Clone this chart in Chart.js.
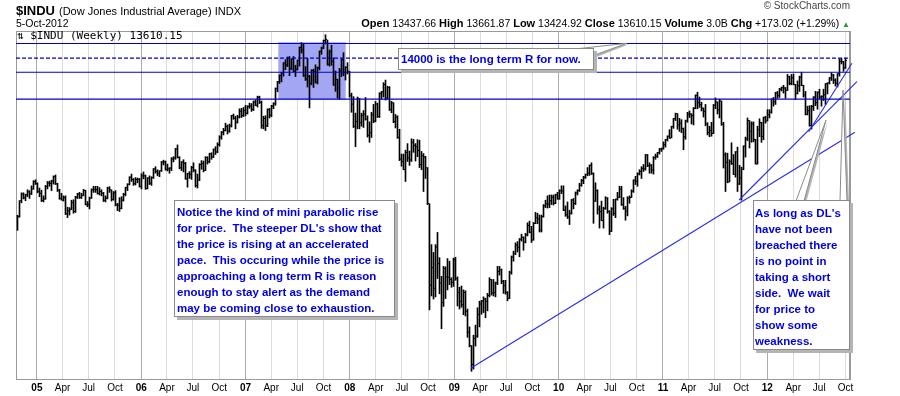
<!DOCTYPE html>
<html>
<head>
<meta charset="utf-8">
<script src="https://cdn.jsdelivr.net/npm/chart.js@4.4.1/dist/chart.umd.min.js"></script>
<style>
  html, body { margin: 0; padding: 0; background: #fff; }
  #wrap { position: relative; width: 900px; height: 396px; overflow: hidden; font-family: 'Liberation Sans', Arial, sans-serif; }
  #chart { position: absolute; left: 0; top: 0; }
  .t { position: absolute; white-space: pre; line-height: 1; color: #000; }
  .note { position: absolute; box-sizing: border-box; background: #fff; border: 1px solid #8a8a8a;
          box-shadow: 3px 3px 0 #b4b4b4; color: #0000e6; font: bold 11.5px 'Liberation Sans', Arial, sans-serif;
          line-height: 16px; white-space: pre; }
</style>
</head>
<body>
<div id="wrap">
  <canvas id="chart" width="900" height="396"></canvas>
  <div class="t" style="left:16px;top:3.5px;font-size:13px;font-weight:bold;">$INDU</div>
  <div class="t" style="left:59px;top:5.5px;font-size:11px;">(Dow Jones Industrial Average) INDX</div>
  <div class="t" style="left:16px;top:17.5px;font-size:10.5px;">5-Oct-2012</div>
  <div class="t" style="right:50px;top:17.5px;font-size:10.5px;"><b style="font-size:11px">Open</b> 13437.66 <b style="font-size:11px">High</b> 13661.87 <b style="font-size:11px">Low</b> 13424.92 <b style="font-size:11px">Close</b> 13610.15 <b style="font-size:11px">Volume</b> 3.0B <b style="font-size:11px">Chg</b> +173.02 (+1.29%) <span style="color:#2a9a2a;font-size:8px">▲</span></div>
  <div class="t" style="right:50px;top:1px;font-size:10px;color:#444;">© StockCharts.com</div>
  <div class="t" style="left:17px;top:30px;font-size:11px;font-family:'DejaVu Sans Mono',monospace;">⇅ $INDU (Weekly) 13610.15</div>

  <div class="note" style="left:398px;top:48px;width:196px;height:22px;padding:2px 0 0 2px;">14000 is the long term R for now.</div>
  <div class="note" style="left:174px;top:200px;width:221px;height:117px;padding:3px 0 0 2px;">Notice the kind of mini parabolic rise
for price.  The steeper DL's show that
the price is rising at an accelerated
pace.  This occuring while the price is
approaching a long term R is reason
enough to stay alert as the demand
may be coming close to exhaustion.</div>
  <div class="note" style="left:753px;top:200px;width:97px;height:150px;padding:4px 0 0 1px;">As long as DL's
have not been
breached there
is no point in
taking a short
side.  We wait
for price to
show some
weakness.</div>
</div>
<script>
// weekly bars, first bar = week of 29-Oct-2004 (week 0 = first week of Jan 2005)
const firstWeek = -10;

const weekHigh = [
  10054,10391,10570,10570,10540,10640,10620,10730,10850,10870,
  // 2005
  10800,10680,10630,10500,10740,10830,10840,10860,10960,10980,10790,10650,10560,10500,10500,10240,10230,10400,10410,10490,10560,10580,10560,10650,10630,10370,
  10470,10660,10720,10720,10720,10690,10640,10580,10500,10700,10710,10640,10600,10620,10330,10460,10480,10560,10700,10780,10940,11000,10900,10920,10910,10900,
  // 2006
  11010,11050,10980,10920,10960,10940,11130,11170,11100,11080,11290,11320,11300,11230,11150,11380,11400,11590,11670,11400,11290,11330,11270,11020,11060,11180,
  11260,11100,11000,11240,11310,11300,11400,11400,11480,11490,11580,11630,11720,11880,11980,12050,12170,12130,12150,12350,12380,12330,12350,12500,12510,12530,
  // 2007
  12580,12570,12630,12620,12680,12700,12790,12790,12680,12330,12340,12500,12510,12580,12640,12980,13130,13280,13340,13560,13630,13690,13700,13650,13700,13500,
  13620,13920,14020,14000,13470,13660,13270,13400,13410,13510,13460,13830,13920,14080,14200,14080,13850,13960,13670,13370,13180,13430,13650,13790,13470,13560,
  // 2008
  13360,12860,12780,12400,12770,12740,12400,12460,12760,12340,12200,12420,12600,12670,12630,12870,12900,13100,13160,13020,13010,12670,12640,12370,12340,12030,
  11460,11460,11550,11700,11530,11810,11800,11700,11790,11780,11520,11470,11410,11150,10320,9380,9200,9380,9660,9080,8650,8880,8870,9060,9000,8620,
  // 2009
  9070,9090,8640,8400,8430,8340,8320,7900,7490,7060,7300,7530,7930,8080,8100,8180,8150,8260,8620,8580,8580,8520,8880,8880,8820,8560,8560,
  8300,8770,9120,9230,9420,9450,9520,9620,9560,9640,9880,9920,9800,9890,10120,10100,10060,10060,10300,10400,10500,10520,10520,10520,10540,10580,
  // 2010
  10640,10730,10730,10270,10360,10170,10420,10440,10590,10640,10790,10880,10950,11000,11150,11210,11260,11030,10800,10640,10270,10380,10240,10480,10460,10160,
  10230,10420,10430,10580,10720,10720,10460,10260,10480,10500,10640,10870,10950,11030,11100,11170,11220,11450,11450,11260,11220,11400,11460,11500,11590,11600,
  // 2011
  11740,11800,11880,12020,12100,12280,12400,12390,12280,12250,12060,12240,12420,12450,12390,12530,12820,12880,12770,12650,12520,12600,12180,12100,12190,12600,
  12750,12660,12720,12680,12190,11490,11480,11330,11720,11450,11520,11620,11200,11160,11650,11850,12290,12230,12200,12200,11800,12100,12270,12190,12310,12330,
  // 2012
  12480,12480,12730,12760,12880,12900,12970,13000,13040,12990,13290,13250,13290,13300,13060,13140,13250,13340,13040,12900,
  12560,12570,12580,12780,12900,12890,12950,12800,12950,13080,13100,13220,13330,13290,13190,13310,13650,13660,13590,13662
];

const weekLow = [
  9708,10009,10340,10430,10390,10480,10440,10530,10650,10760,
  // 2005
  10570,10480,10370,10360,10420,10660,10720,10620,10770,10760,10600,10420,10400,10380,10070,10000,10060,10180,10100,10120,10440,10440,10440,10500,10290,10250,
  10200,10440,10580,10580,10540,10520,10500,10370,10360,10430,10580,10380,10400,10270,10160,10140,10200,10380,10500,10620,10750,10830,10740,10750,10800,10700,
  // 2006
  10660,10890,10650,10660,10760,10740,10900,11020,10960,10940,11060,11210,11090,11070,11020,11080,11280,11340,11370,11120,11080,11050,10880,10700,10900,10880,
  11050,10700,10680,10850,11110,11050,11080,11230,11260,11340,11380,11450,11490,11640,11800,11900,11990,11920,11960,12080,12260,12040,12170,12290,12300,12320,
  // 2007
  12340,12380,12510,12440,12460,12570,12540,12620,12050,12040,12000,12090,12290,12320,12500,12580,12890,13080,13120,13250,13400,13470,13260,13400,13350,13240,
  13390,13480,13780,13240,13150,13000,12520,13050,12990,13090,13070,13390,13750,13880,13990,13500,13480,13500,13040,12900,12750,12720,13240,13260,13160,13300,
  // 2008
  12770,12420,12070,11630,12040,12040,12100,12070,12240,11850,11730,11840,12180,12200,12300,12300,12720,12770,12700,12720,12460,12410,12180,12060,11820,11310,
  11180,11100,10830,11290,11200,11290,11500,11300,11400,11150,11100,10600,10900,10300,7880,8200,8130,8180,8600,8250,7450,7960,8140,8340,8460,8400,
  // 2009
  8420,8560,7970,7900,7940,7770,7740,7250,7030,6470,6520,7050,7250,7490,7780,7820,7700,7860,8180,8220,8200,8180,8460,8680,8480,8260,8240,
  8090,8140,8700,9000,9150,9210,9100,9460,9250,9420,9580,9650,9430,9480,9860,9860,9670,9670,10010,10230,10220,10230,10300,10290,10320,10420,
  // 2010
  10420,10550,10160,10030,9980,9840,10080,10200,10300,10520,10600,10720,10780,10900,10960,10970,10990,9870,10370,10080,9760,9930,9760,10190,10100,9610,
  9680,10050,10000,10400,10460,10280,10190,9940,10040,10330,10460,10580,10760,10720,10980,10900,11060,11090,11170,11020,11020,11000,11340,11380,11460,11520,
  // 2011
  11570,11620,11760,11820,11830,12050,12230,12030,11980,11950,11560,11800,12190,12300,12150,12130,12500,12500,12530,12450,12310,12110,11900,11860,11870,11930,
  12500,12380,12290,12120,11140,10600,10800,10820,11220,10990,10930,10600,10760,10400,11100,11390,11770,11600,11730,11740,11230,11230,11860,11730,11790,12170,
  // 2012
  12220,12290,12400,12560,12600,12740,12760,12910,12860,12740,12920,13050,13050,13050,12710,12840,12900,13030,12770,12360,
  12360,12100,12035,12460,12570,12490,12730,12560,12690,12600,12840,13070,13150,13080,13020,13000,13250,13530,13360,13425
];

const weekClose = [
  10027,10387,10539,10456,10522,10592,10543,10661,10827,10783,
  // 2005
  10603,10558,10393,10427,10716,10796,10785,10841,10940,10774,10629,10442,10404,10461,10088,10157,10192,10345,10140,10471,10542,10460,10513,10623,10297,10303,
  10449,10640,10651,10641,10558,10600,10559,10397,10447,10679,10641,10420,10569,10292,10287,10215,10402,10530,10686,10766,10931,10878,10778,10875,10883,10718,
  // 2006
  10959,10960,10668,10907,10793,10919,11115,11061,11022,11076,11279,11280,11109,11120,11137,11347,11367,11577,11380,11144,11278,11247,10891,11015,10989,11150,
  11091,10739,10868,11219,11240,11088,11381,11284,11464,11392,11560,11508,11679,11850,11960,12002,12090,11986,12108,12342,12280,12194,12307,12445,12343,12463,
  // 2007
  12398,12556,12565,12487,12653,12580,12768,12647,12114,12276,12110,12481,12354,12560,12612,12961,13120,13264,13326,13556,13507,13668,13424,13639,13361,13408,
  13611,13908,13851,13266,13182,13240,13079,13379,13358,13114,13442,13821,13896,14066,14093,13522,13807,13596,13043,13176,12980,13372,13625,13340,13450,13366,
  // 2008
  12800,12606,12099,12207,12743,12182,12348,12381,12266,11894,11951,12361,12216,12609,12325,12849,12891,13058,12745,12986,12480,12638,12209,12307,11843,11346,
  11288,11100,11496,11370,11326,11734,11659,11628,11543,11220,11421,11388,11143,10325,8451,8852,8378,9325,8943,8497,8046,8829,8635,8629,8579,8515,
  // 2009
  9034,8599,8281,8077,8000,8280,7850,7366,7062,6627,7224,7279,7776,8017,8083,8131,8076,8212,8575,8268,8277,8500,8763,8799,8539,8438,8280,
  8146,8743,9093,9171,9370,9321,9505,9544,9441,9605,9820,9665,9487,9865,9996,9972,9713,10023,10271,10318,10310,10388,10471,10329,10520,10428,
  // 2010
  10618,10610,10172,10067,10012,10099,10402,10325,10567,10625,10742,10850,10927,10997,11019,11204,11009,10380,10620,10193,10137,9931,10211,10450,10144,9686,
  10198,10098,10424,10466,10653,10303,10213,10150,10447,10462,10607,10860,10829,11006,11062,11132,11118,11444,11192,11203,11092,11382,11410,11491,11573,11578,
  // 2011
  11675,11787,11871,11824,12092,12273,12391,12130,12170,12044,11858,12221,12377,12380,12342,12506,12811,12639,12596,12512,12441,12151,11952,12004,11934,12583,
  12657,12479,12681,12143,11444,11269,10818,11285,11240,10992,11509,10771,10913,11103,11644,11809,12231,11983,12153,11796,11231,12019,12184,11866,12294,12218,
  // 2012
  12360,12422,12720,12660,12862,12801,12950,12983,12978,12922,13233,13081,13212,13060,12850,13029,13228,13038,12821,12369,
  12455,12119,12554,12767,12640,12880,12772,12777,12822,13075,13096,13207,13275,13157,13090,13306,13593,13579,13437,13610
];

// axis labels
const tickYears = ['05', '06', '07', '08', '09', '10', '11', '12'];
const tickMonths = ['Apr', 'Jul', 'Oct'];

// annotations (week index, price)
const levels = [14000, 13662, 13340, 12720];
const levelDashed = [false, true, false, false];
const trendStart = [[216.6, 6540], [350.8, 10405], [385.6, 11974]];
const trendEnd = [[408.7, 11963], [409.7, 13123], [407.2, 13545]];
const boxWeeks = [120.4, 154.1];
const boxPrices = [12717, 14030];
// where the callout tails point
const tailTips = [[294.75, 14005], [394.25, 12240], [402.75, 12930]];

const weekOf = (y, m) => (Date.UTC(y, m, 1) - Date.UTC(2005, 0, 3)) / 6048e5;
const xTickPos = [];
const xTickLabels = [];
tickYears.forEach((yl, k) => {
    xTickPos.push(weekOf(2005 + k, 0));
    xTickLabels.push(yl);
    tickMonths.forEach((ml, j) => {
        xTickPos.push(weekOf(2005 + k, (j + 1) * 3));
        xTickLabels.push(ml);
    });
});

// 2 px per week so the 1 px bars sit on whole pixels
const xMin = -10.75, xMax = 406.25;
const blue = '#0000cc';
const lineBlue = '#2a2aee';

const datasets = [];
levels.forEach((v, i) => {
    datasets.push({
        type: 'line',
        data: [{ x: xMin, y: v }, { x: xMax, y: v }],
        borderColor: blue,
        borderWidth: 1.2,
        borderDash: levelDashed[i] ? [4, 2] : [],
        pointRadius: 0,
        order: 0
    });
});
trendStart.forEach((p, i) => {
    datasets.push({
        type: 'line',
        data: [{ x: p[0], y: p[1] }, { x: trendEnd[i][0], y: trendEnd[i][1] }],
        borderColor: lineBlue,
        borderWidth: 1.1,
        pointRadius: 0,
        clip: 12,
        order: 0
    });
});
datasets.push({
    type: 'bar',
    data: weekHigh.map((h, i) => ({ x: firstWeek + i, y: [weekLow[i], h] })),
    backgroundColor: '#000',
    barThickness: 1,
    grouped: false,
    order: 1
});
datasets.push({
    type: 'line',
    data: weekClose.map((c, i) => ({ x: firstWeek + i + 0.5, y: c })),
    showLine: false,
    pointStyle: 'line',
    pointRadius: 0.5,
    pointBorderWidth: 1,
    borderColor: '#000',
    order: 1
});

const frameAndBox = {
    id: 'frameAndBox',
    beforeDatasetsDraw(chart) {
        const { ctx, chartArea: a, scales: { x, y } } = chart;
        ctx.save();
        ctx.fillStyle = '#a3a6f3';
        const x0 = x.getPixelForValue(boxWeeks[0]);
        const x1 = x.getPixelForValue(boxWeeks[1]);
        const y0 = y.getPixelForValue(boxPrices[1]);
        const y1 = y.getPixelForValue(boxPrices[0]);
        ctx.fillRect(x0, y0, x1 - x0, y1 - y0);
        ctx.strokeStyle = '#9a9a9a';
        ctx.lineWidth = 1;
        ctx.strokeRect(a.left + 0.5, a.top + 0.5, a.right - a.left - 1, a.bottom - a.top);
        ctx.restore();
    },
    afterDatasetsDraw(chart) {
        const { ctx, scales: { x, y } } = chart;
        // callout tails
        const tail = (pts, tip) => {
            const apex = [x.getPixelForValue(tip[0]), y.getPixelForValue(tip[1])];
            ctx.beginPath();
            ctx.moveTo(pts[0][0] + 2, pts[0][1] + 2);
            ctx.lineTo(apex[0] + 2, apex[1] + 1);
            ctx.lineTo(pts[1][0] + 2, pts[1][1] + 2);
            ctx.closePath();
            ctx.fillStyle = '#b4b4b4';
            ctx.fill();
            ctx.beginPath();
            ctx.moveTo(pts[0][0], pts[0][1]);
            ctx.lineTo(apex[0], apex[1]);
            ctx.lineTo(pts[1][0], pts[1][1]);
            ctx.closePath();
            ctx.fillStyle = '#fff';
            ctx.fill();
            ctx.strokeStyle = '#8a8a8a';
            ctx.stroke();
        };
        ctx.save();
        tail([[575, 49], [592, 56]], tailTips[0]);
        tail([[796, 201], [804, 201]], tailTips[1]);
        tail([[840, 201], [847, 201]], tailTips[2]);
        ctx.restore();
    }
};

new Chart(document.getElementById('chart'), {
    type: 'bar',
    data: { datasets },
    plugins: [frameAndBox],
    options: {
        responsive: false,
        devicePixelRatio: 1,
        animation: false,
        layout: { padding: { left: 16, top: 31, right: 0, bottom: 0 } },
        plugins: { legend: { display: false }, tooltip: { enabled: false } },
        scales: {
            x: {
                type: 'linear',
                min: xMin,
                max: xMax,
                offset: false,
                afterBuildTicks: s => { s.ticks = xTickPos.map(v => ({ value: v })); },
                afterFit: s => { s.height = 17; },
                grid: {
                    offset: false,
                    drawTicks: false,
                    color: c => (c.index % 4 === 0 ? '#ababab' : '#dcdcdc')
                },
                border: { color: '#9a9a9a' },
                ticks: {
                    autoSkip: false,
                    maxRotation: 0,
                    padding: 3,
                    color: '#000',
                    callback: (v, i) => xTickLabels[i],
                    font: c => ({ family: "'Liberation Sans', Arial, sans-serif", size: 10, weight: c.index % 4 === 0 ? 'bold' : 'normal' })
                }
            },
            y: {
                position: 'right',
                min: 6293,
                max: 14287,
                afterBuildTicks: s => { s.ticks = s.ticks.filter(t => t.value % 500 === 0); },
                afterFit: s => { s.width = 50; },
                grid: { color: '#dcdcdc', drawTicks: false },
                border: { color: '#9a9a9a' },
                ticks: {
                    stepSize: 500,
                    padding: 5,
                    color: '#222',
                    font: { family: "'Liberation Sans', Arial, sans-serif", size: 10.5 }
                }
            }
        }
    }
});
</script>
</body>
</html>
